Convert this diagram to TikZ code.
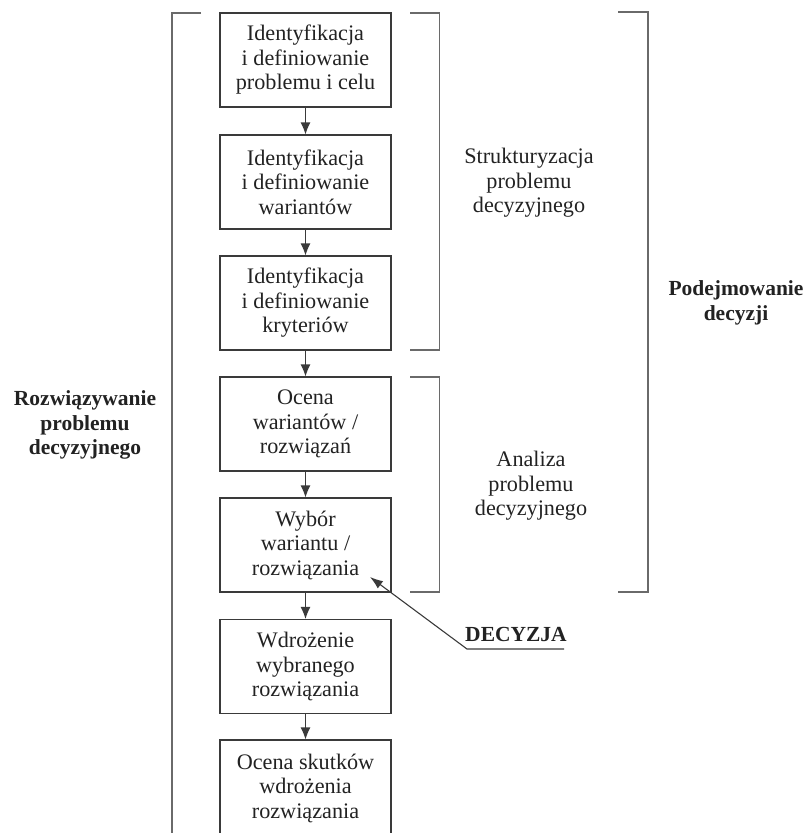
\documentclass[tikz,border=0pt]{standalone}
\usepackage{fontspec}
\setmainfont{Liberation Serif}
\usetikzlibrary{arrows.meta}
\definecolor{boxline}{HTML}{3A3A3A}
\definecolor{brline}{HTML}{6A6A6A}
\definecolor{txt}{HTML}{222222}
\tikzset{
  box/.style={draw=boxline, line width=1.1pt, minimum width=171pt, minimum height=94pt, inner sep=0pt, align=center, text=txt, font=\fontsize{22.2}{24.5}\selectfont},
  lbl/.style={align=center, text=txt, font=\fontsize{22.2}{24.5}\selectfont},
  blbl/.style={align=center, text=txt, font=\bfseries\fontsize{21.5}{24.5}\selectfont},
  flow/.style={draw=boxline, line width=1.1pt, -{Latex[length=12pt,width=10pt]}},
  bracket/.style={draw=brline, line width=1.3pt}
}
\begin{document}
\begin{tikzpicture}[x=1pt,y=-1pt]
\useasboundingbox (0,0) rectangle (807,833);
\clip (0,0) rectangle (807,833);
\node[box] (b1) at (305.5,60) {Identyfikacja\\i definiowanie\\problemu i celu};
\node[box] (b2) at (305.5,182) {Identyfikacja\\i definiowanie\\wariantów};
\node[box] (b3) at (305.5,303) {Identyfikacja\\i definiowanie\\kryteriów};
\node[box] (b4) at (305.5,424) {Ocena\\wariantów /\\rozwiązań};
\node[box] (b5) at (305.5,545) {Wybór\\wariantu /\\rozwiązania};
\node[box] (b6) at (305.5,666.5) {Wdrożenie\\wybranego\\rozwiązania};
\node[box, minimum height=120pt, text depth=0pt] (b7) at (305.5,800) {};
\node[lbl] (t7) at (305.5,788) {Ocena skutków\\wdrożenia\\rozwiązania};
\draw[flow] (b1) -- (b2);
\draw[flow] (b2) -- (b3);
\draw[flow] (b3) -- (b4);
\draw[flow] (b4) -- (b5);
\draw[flow] (b5) -- (b6);
\draw[flow] (b6) -- (b7);
% brackets
\draw[bracket] (201,13) -- (172,13) -- (172,840);
\draw[bracket] (410,13) -- (439.5,13) -- (439.5,350) -- (410,350);
\draw[bracket] (410,377) -- (439.5,377) -- (439.5,592) -- (410,592);
\draw[bracket] (618,12) -- (648,12) -- (648,592) -- (618,592);
% labels
\node[lbl] (s) at (529,183) {Strukturyzacja\\problemu\\decyzyjnego};
\node[lbl] (a) at (531,486) {Analiza\\problemu\\decyzyjnego};
\node[blbl] (p) at (736,303) {Podejmowanie\\decyzji};
\node[blbl] (r) at (85,425) {Rozwiązywanie\\problemu\\decyzyjnego};
\node[blbl] (d) at (516,634) {DECYZJA};
\coordinate (dR) at (564,649);
\coordinate (dL) at (467,649);
\coordinate (tip) at (370,577);
\draw[boxline, line width=1.1pt, -{Latex[length=13pt,width=9pt]}] (dR) -- (dL) -- (tip);
\end{tikzpicture}
\end{document}
